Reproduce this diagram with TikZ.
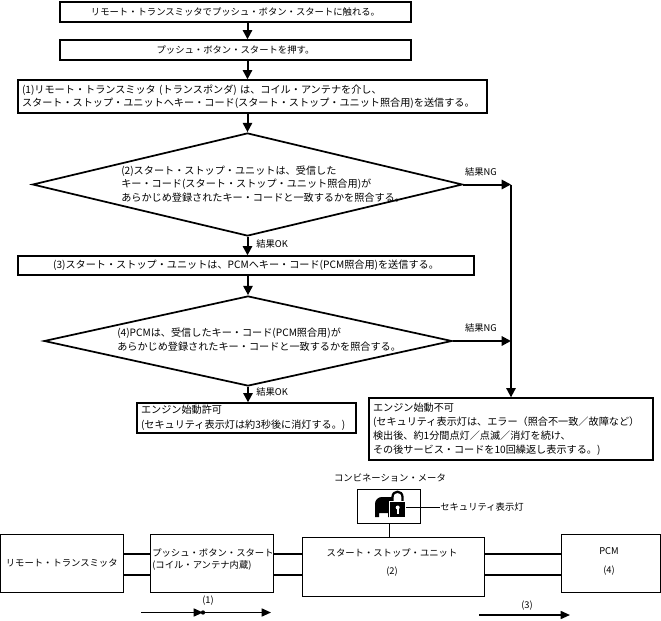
\documentclass[tikz,border=0pt]{standalone}
\usepackage{fontspec}
\setmainfont{Noto Sans CJK JP}
\usetikzlibrary{shapes.geometric,arrows.meta}
\tikzset{
  txt/.style={font=\fontsize{7}{9}\selectfont,inner sep=0pt},
  wide/.style={font=\fontsize{7.6}{10.2}\selectfont},
  stepbox/.style={txt,draw,line width=1pt,minimum height=15pt},
  notebox/.style={txt,wide,draw,line width=1pt,align=left,inner xsep=3pt,inner ysep=0pt},
  decision/.style={draw,diamond,line width=1.3pt,inner sep=0pt},
  arr/.style={line width=1.5pt,-{Triangle[length=7pt,width=7pt]}},
  unit/.style={txt,draw,line width=0.75pt},
  bus/.style={line width=1.5pt},
  sig/.style={line width=1.2pt,-{Triangle[length=7pt,width=6pt]}},
}
\begin{document}
\begin{tikzpicture}[x=0.75pt,y=-0.75pt]
\useasboundingbox (0,0) rectangle (661,621);
\fill[white] (0,0) rectangle (661,621);

\node[stepbox,minimum width=263.25pt] (touch) at (235.5,12) {リモート・トランスミッタでプッシュ・ボタン・スタートに触れる。};
\node[stepbox,minimum width=263.25pt] (push) at (235.5,50) {プッシュ・ボタン・スタートを押す。};
\node[notebox,text width=345.75pt,minimum height=24.75pt,font=\fontsize{7.6}{9.6}\selectfont] (send1) at (252.5,96.5) {(1)リモート・トランスミッタ (トランスポンダ) は、コイル・アンテナを介し、\\スタート・ストップ・ユニットへキー・コード(スタート・ストップ・ユニット照合用)を送信する。};
\node[decision,minimum width=322.5pt,minimum height=77.25pt] (check1) at (247.5,184.5) {};
\node[txt,wide,align=left,anchor=west,font=\fontsize{7.6}{10}\selectfont] (check1txt) at (121,184) {(2)スタート・ストップ・ユニットは、受信した\\キー・コード(スタート・ストップ・ユニット照合用)が\\あらかじめ登録されたキー・コードと一致するかを照合する。};
\node[stepbox,wide,minimum width=342pt,minimum height=14.25pt] (send3) at (246,265.5) {(3)スタート・ストップ・ユニットは、PCMへキー・コード(PCM照合用)を送信する。};
\node[decision,minimum width=306pt,minimum height=67.5pt] (check2) at (248,341) {};
\node[txt,wide,align=left,anchor=west,font=\fontsize{7.6}{10.5}\selectfont] (check2txt) at (117,340) {(4)PCMは、受信したキー・コード(PCM照合用)が\\あらかじめ登録されたキー・コードと一致するかを照合する。};
\node[notebox,text width=158.25pt,minimum height=22.5pt,font=\fontsize{7.6}{11}\selectfont] (okbox) at (246.5,418) {エンジン始動許可\\(セキュリティ表示灯は約3秒後に消灯する。)};
\node[notebox,text width=207pt,minimum height=46.5pt,font=\fontsize{7.6}{10.5}\selectfont] (ngbox) at (511,429) {エンジン始動不可\\(セキュリティ表示灯は、エラー（照合不一致／故障など）\\検出後、約1分間点灯／点滅／消灯を続け、\\その後サービス・コードを10回繰返し表示する。)};

\node[txt] (ng1) at (481,172) {結果NG};
\node[txt] (ng2) at (481,328) {結果NG};
\node[txt,anchor=west] (ok1) at (256,244) {結果OK};
\node[txt,anchor=west] (ok2) at (256,392) {結果OK};

\draw[arr] (touch.south -| check1.north) -- (push.north -| check1.north);
\draw[arr] (push.south -| check1.north) -- (send1.north -| check1.north);
\draw[arr] (send1.south -| check1.north) -- (check1.north);
\draw[arr] (check1.south) -- (send3.north -| check1.south);
\draw[arr] (send3.south -| check2.north) -- (check2.north);
\draw[arr] (check2.south) -- (okbox.north -| check2.south);
\draw[arr] (check1.east) -- (check1.east -| ngbox.north);
\draw[arr] (check2.east) -- (check2.east -| ngbox.north);
\draw[arr] (check1.east -| ngbox.north) -- (ngbox.north);

\node[txt] (metertxt) at (390,478) {コンビネーション・メータ};
\node[unit,minimum width=47.25pt,minimum height=25.5pt] (meter) at (389,506) {};
\fill (375,517) -- (375,504) .. controls (375,500) and (378,497) .. (382,497) -- (392,497) -- (392,517) -- (388,517) -- (388,513) -- (379,513) -- (379,517) -- cycle;
\draw[line width=1.7pt] (392.5,502) -- (392.5,497) .. controls (392.5,490) and (402.5,490) .. (402.5,497) -- (402.5,502);
\filldraw[fill=black,draw=white,line width=0.8pt] (389.5,501.5) rectangle (406,518);
\fill[white] (397.7,507.5) circle (1.5pt);
\fill[white] (396.7,507.5) rectangle (398.7,514);
\coordinate (lock) at (406,507);
\node[txt,anchor=west] (seclamp) at (440,507) {セキュリティ表示灯};
\draw[line width=0.75pt] (lock) -- (seclamp.west);

\node[unit,minimum width=91.9pt,minimum height=43.5pt] (remote) at (61.75,563) {リモート・トランスミッタ};
\node[unit,minimum width=92.25pt,minimum height=43.5pt] (pbs) at (211.5,563) {};
\node[txt,align=left,anchor=west] (pbstxt) at (152,560) {プッシュ・ボタン・スタート\\(コイル・アンテナ内蔵)};
\node[unit,minimum width=136.5pt,minimum height=44.25pt] (ssu) at (393,566.5) {};
\node[txt] (ssutxt) at (392,553) {スタート・ストップ・ユニット};
\node[txt] (ssunum) at (392,572) {(2)};
\node[unit,minimum width=74.6pt,minimum height=43.5pt] (pcm) at (610.75,563) {};
\node[txt] (pcmtxt) at (609,551) {PCM};
\node[txt] (pcmnum) at (609,571) {(4)};
\draw[line width=0.75pt] (meter.south) -- (meter.south |- ssu.north);

\foreach \s in {6.75pt,-9pt} {
  \draw[bus] ([yshift=\s]remote.east) -- ([yshift=\s]remote.east -| pbs.west);
  \draw[bus] ([yshift=\s]pbs.east) -- ([yshift=\s]pbs.east -| ssu.west);
  \draw[bus] ([yshift=\s]pcm.west) -- ([yshift=\s]pcm.west -| ssu.east);
}

\coordinate (s1a) at (141,612.5);
\coordinate (s1b) at (203,612.5);
\coordinate (s1c) at (271,612.5);
\draw[sig] (s1a) -- (s1b);
\draw[sig] (s1b) -- (s1c);
\fill (s1b) circle (1.6pt);
\node[txt] (s1txt) at (208,601) {(1)};
\coordinate (s3a) at (479,615);
\coordinate (s3b) at (570,615);
\draw[sig] (s3a) -- (s3b);
\node[txt] (s3txt) at (527,606) {(3)};
\end{tikzpicture}
\end{document}
